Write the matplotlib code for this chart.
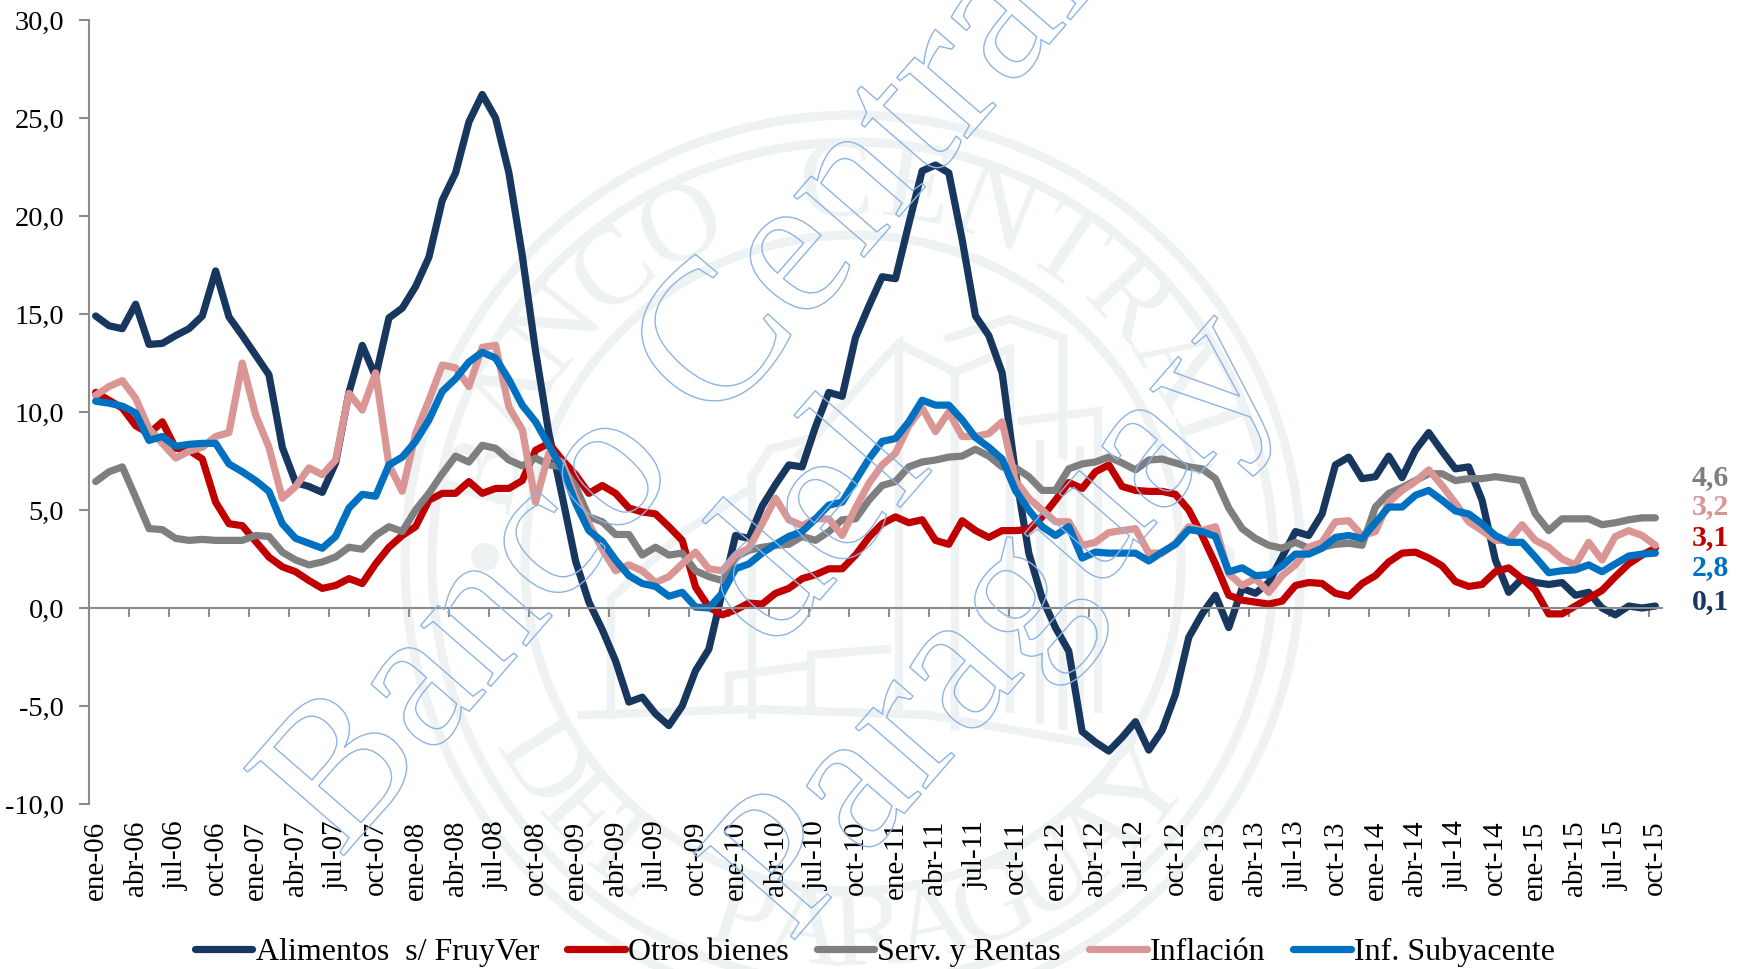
# -*- coding: utf-8 -*-
import numpy as np
import matplotlib
matplotlib.use("Agg")
import matplotlib.pyplot as plt
import matplotlib.patheffects as pe
from matplotlib.patches import Circle

W, H = 1742, 969

MONTHS = ["ene", "abr", "jul", "oct"]
YEARS = ["06", "07", "08", "09", "10", "11", "12", "13", "14", "15"]
TICK_LABELS = [f"{m}-{y}" for y in YEARS for m in MONTHS]
Y_TICKS = [-10, -5, 0, 5, 10, 15, 20, 25, 30]

alimentos = [
    14.9, 14.4, 14.25, 15.5, 13.45, 13.5, 13.9, 14.25, 14.9, 17.2,
    14.85, 13.9, 12.9, 11.9, 8.2, 6.4, 6.2, 5.9, 7.4, 11.0,
    13.4, 11.8, 14.8, 15.3, 16.4, 17.9, 20.8, 22.2, 24.8, 26.2,
    25.0, 22.2, 18.0, 13.1, 8.9, 5.7, 2.4, 0.3, -1.1, -2.7,
    -4.8, -4.55, -5.4, -6.0, -5.0, -3.2, -2.1, 0.8, 3.7, 3.55,
    5.2, 6.3, 7.3, 7.2, 9.25, 11.0, 10.8, 13.8, 15.4, 16.9,
    16.8, 19.6, 22.3, 22.6, 22.2, 18.8, 14.9, 13.9, 12.0, 6.9,
    2.8, 0.5, -1.0, -2.2, -6.3, -6.85, -7.3, -6.6, -5.8, -7.25,
    -6.25, -4.4, -1.5, -0.3, 0.65, -1.0, 1.0, 0.75, 1.3, 2.6,
    3.9, 3.7, 4.8, 7.3, 7.7, 6.6, 6.7, 7.75, 6.65, 8.05,
    8.95, 8.0, 7.1, 7.2, 5.5, 2.45, 0.8, 1.5, 1.3, 1.2,
    1.3, 0.65, 0.8, 0.0, -0.35, 0.1, 0.0, 0.1,
]
otros = [
    11.0, 10.6, 10.2, 9.3, 8.9, 9.5, 8.15, 8.05, 7.6, 5.4,
    4.3, 4.2, 3.4, 2.6, 2.1, 1.85, 1.4, 1.0, 1.15, 1.5,
    1.25, 2.25, 3.1, 3.7, 4.15, 5.5, 5.85, 5.85, 6.45, 5.85,
    6.1, 6.1, 6.5, 8.05, 8.4, 7.55, 6.8, 5.85, 6.25, 5.85,
    5.1, 4.9, 4.8, 4.15, 3.45, 1.07, 0.05, -0.35, -0.1, 0.25,
    0.2, 0.75, 1.0, 1.5, 1.7, 2.0, 2.0, 2.7, 3.6, 4.3,
    4.65, 4.35, 4.5, 3.45, 3.25, 4.45, 3.95, 3.6, 3.95, 3.95,
    4.0, 4.65, 5.5, 6.4, 6.1, 6.95, 7.3, 6.2, 6.0, 5.95,
    5.95, 5.8, 5.0, 3.7, 2.25, 0.65, 0.4, 0.3, 0.2, 0.35,
    1.15, 1.3, 1.25, 0.75, 0.6, 1.25, 1.65, 2.35, 2.8, 2.85,
    2.55, 2.15, 1.35, 1.1, 1.2, 1.85, 2.05, 1.5, 0.9, -0.3,
    -0.3, 0.1, 0.5, 0.9, 1.6, 2.25, 2.7, 3.05,
]
serv = [
    6.45, 6.95, 7.2, 5.65, 4.05, 4.0, 3.55, 3.45, 3.5, 3.45,
    3.45, 3.45, 3.7, 3.65, 2.85, 2.45, 2.2, 2.35, 2.6, 3.1,
    3.0, 3.7, 4.15, 3.9, 5.0, 5.85, 6.85, 7.75, 7.45, 8.3,
    8.15, 7.55, 7.25, 7.65, 7.3, 7.2, 6.2, 4.65, 4.4, 3.75,
    3.75, 2.7, 3.1, 2.7, 2.8, 1.9, 1.6, 1.4, 2.6, 2.95,
    3.1, 3.2, 3.25, 3.65, 3.45, 3.9, 4.5, 4.55, 5.5, 6.25,
    6.45, 7.2, 7.45, 7.55, 7.7, 7.75, 8.1, 7.75, 7.2, 7.15,
    6.7, 6.0, 6.0, 7.1, 7.35, 7.45, 7.7, 7.4, 7.05, 7.55,
    7.6, 7.4, 7.2, 7.1, 6.6, 5.1, 4.05, 3.55, 3.2, 3.05,
    3.35, 3.05, 3.1, 3.25, 3.3, 3.2, 5.15, 5.85, 6.15, 6.5,
    6.85, 6.85, 6.5, 6.6, 6.6, 6.7, 6.6, 6.5, 4.8, 3.95,
    4.55, 4.55, 4.55, 4.25, 4.35, 4.5, 4.6, 4.6,
]
inflacion = [
    10.85, 11.3, 11.6, 10.7, 9.15, 8.4, 7.65, 8.0, 8.2, 8.75,
    8.95, 12.5, 9.85, 8.2, 5.6, 6.2, 7.15, 6.8, 7.55, 10.95,
    10.1, 12.0, 7.3, 5.95, 8.9, 10.6, 12.4, 12.25, 11.3, 13.3,
    13.4, 10.25, 9.1, 5.4, 7.9, 7.4, 5.65, 4.3, 3.0, 1.9,
    2.2, 1.9, 1.3, 1.6, 2.25, 2.85, 2.0, 1.9, 2.7, 3.05,
    4.3, 5.6, 4.5, 4.2, 4.55, 4.55, 3.7, 5.1, 6.35, 7.3,
    7.9, 9.3, 10.2, 9.0, 10.0, 8.75, 8.75, 8.9, 9.5, 6.5,
    5.6, 5.0, 4.4, 4.4, 3.2, 3.35, 3.85, 3.95, 4.05, 2.8,
    2.8, 3.3, 4.15, 3.95, 4.15, 1.75, 1.15, 1.5, 0.8, 1.65,
    2.2, 3.1, 3.35, 4.4, 4.45, 3.7, 3.9, 5.4, 6.0, 6.45,
    7.05, 6.25, 5.35, 4.4, 3.95, 3.45, 3.45, 4.25, 3.45, 3.1,
    2.5, 2.2, 3.35, 2.45, 3.65, 3.95, 3.7, 3.2,
]
subyacente = [
    10.55, 10.45, 10.3, 9.95, 8.55, 8.75, 8.25, 8.35, 8.4, 8.4,
    7.35, 6.95, 6.5, 5.95, 4.3, 3.55, 3.3, 3.05, 3.65, 5.1,
    5.8, 5.7, 7.3, 7.7, 8.5, 9.6, 11.05, 11.7, 12.55, 13.05,
    12.75, 11.65, 10.35, 9.5, 8.3, 7.1, 5.35, 3.95, 3.4, 2.45,
    1.65, 1.25, 1.1, 0.6, 0.8, 0.05, 0.0, 0.75, 2.0, 2.25,
    2.8, 3.25, 3.65, 3.9, 4.55, 5.25, 5.4, 6.5, 7.6, 8.5,
    8.65, 9.5, 10.6, 10.35, 10.35, 9.6, 8.7, 8.2, 7.6, 6.0,
    5.0, 4.15, 3.7, 4.15, 2.55, 2.85, 2.8, 2.8, 2.8, 2.4,
    2.85, 3.25, 4.0, 3.9, 3.65, 1.85, 2.05, 1.65, 1.7, 2.15,
    2.75, 2.75, 3.05, 3.6, 3.7, 3.55, 4.35, 5.15, 5.15, 5.75,
    6.0, 5.5, 4.95, 4.8, 4.3, 3.7, 3.35, 3.35, 2.6, 1.8,
    1.9, 1.95, 2.2, 1.85, 2.25, 2.65, 2.75, 2.8,
]

SERIES_NAMES = ["Alimentos  s/ FruyVer", "Otros bienes", "Serv. y Rentas", "Inflación", "Inf. Subyacente"]
SERIES_COLORS = ["#17375E", "#C00000", "#7F7F7F", "#D99694", "#0070C0"]
END_LABELS = ["0,1", "3,1", "4,6", "3,2", "2,8"]
END_LABEL_Y = [602, 538, 478, 507, 568]

SEAL = "#EEF2F2"
WATER = "#8DB4E2"

# trazos del edificio del sello, en pixeles de la imagen
BUILDING = [
    [(948, 338), (1010, 319), (1063, 338), (1063, 455)],
    [(899, 344), (955, 372), (1010, 349)],
    [(799, 455), (887, 355), (899, 344), (899, 709)],
    [(955, 372), (955, 726)],
    [(1010, 349), (1010, 709)],
    [(752, 477), (770, 449), (811, 438)],
    [(752, 477), (752, 715)],
    [(1022, 421), (1098, 411), (1098, 709)],
    [(611, 715), (611, 599), (682, 533), (752, 488)],
    [(811, 709), (811, 655), (887, 649)],
    [(729, 709), (729, 676), (811, 665)],
    [(1040, 444), (1040, 720)],
    [(1063, 478), (1063, 726)],
    [(1080, 450), (1080, 720)],
    [(582, 715), (752, 709), (928, 715), (1104, 746)],
]


def draw_seal(fig):
    bg = fig.add_axes([0, 0, 1, 1], zorder=0)
    bg.set_xlim(0, W)
    bg.set_ylim(H, 0)
    bg.axis("off")
    cx, cy = 853, 563
    for r in (448, 421, 328):
        bg.add_patch(Circle((cx, cy), r, fill=False, ec=SEAL, lw=6.5))
    for dx in (-368, 368):
        bg.add_patch(Circle((cx + dx, cy - 6), 14, fc=SEAL, ec="none"))
    for pts in BUILDING:
        xs, ys = zip(*pts)
        bg.plot(xs, ys, color=SEAL, lw=6, solid_joinstyle="miter")
    r = 375
    top = "BANCO CENTRAL"
    for ang, ch in zip(np.linspace(166, 19, len(top)), top):
        a = np.deg2rad(ang)
        bg.text(cx + r * np.cos(a), cy - r * np.sin(a), ch, rotation=ang - 90,
                rotation_mode="anchor", ha="center", va="center", fontsize=80,
                family="Liberation Serif", color=SEAL)
    bottom = "DEL PARAGUAY"
    for ang, ch in zip(np.linspace(213, 322, len(bottom)), bottom):
        a = np.deg2rad(ang)
        bg.text(cx + r * np.cos(a), cy - r * np.sin(a), ch, rotation=ang + 90,
                rotation_mode="anchor", ha="center", va="center", fontsize=80,
                family="Liberation Serif", color=SEAL)


def main():
    plt.rcParams["font.family"] = "Liberation Serif"
    fig = plt.figure(figsize=(W / 100, H / 100), dpi=100, facecolor="white")
    draw_seal(fig)

    left, right, top, bottom = 89, 1662, 20, 804
    ax = fig.add_axes([left / W, 1 - bottom / H, (right - left) / W, (bottom - top) / H], zorder=1)
    ax.patch.set_alpha(0)

    data = [alimentos, otros, serv, inflacion, subyacente]
    x = np.arange(len(alimentos))
    for vals, name, col in zip(data, SERIES_NAMES, SERIES_COLORS):
        ax.plot(x, vals, color=col, lw=5.2, label=name,
                solid_capstyle="round", solid_joinstyle="round")

    ax.set_xlim(-0.5, len(x) - 0.5)
    ax.set_ylim(-10, 30)
    for s in ("top", "right"):
        ax.spines[s].set_visible(False)
    ax.spines["bottom"].set_position(("data", 0))
    for s in ("left", "bottom"):
        ax.spines[s].set_color("#8C8C8C")
        ax.spines[s].set_linewidth(1.5)

    ax.set_yticks(Y_TICKS)
    ax.set_yticklabels([f"{v:.1f}".replace(".", ",") for v in Y_TICKS], fontsize=20.5)
    ax.tick_params(axis="y", length=7, width=1.5, color="#8C8C8C", pad=11)

    label_pos = x[::3]
    ax.set_xticks(label_pos - 0.5)
    ax.set_xticklabels([])
    ax.set_xticks(label_pos, minor=True)
    ax.set_xticklabels(TICK_LABELS[:len(label_pos)], minor=True, rotation=90, fontsize=21,
                       ha="center", va="top")
    ax.tick_params(axis="x", which="major", length=6.5, width=1.5, color="#8C8C8C")
    ax.tick_params(axis="x", which="minor", length=0, pad=153)

    for txt, ypx, col in zip(END_LABELS, END_LABEL_Y, SERIES_COLORS):
        fig.text(1692 / W, 1 - ypx / H, txt, color=col, fontsize=21.5, fontweight="bold",
                 ha="left", va="center", zorder=5)

    fig.legend(*ax.get_legend_handles_labels(), loc="center", ncol=5, frameon=False,
               bbox_to_anchor=(875 / W, 1 - 952 / H), fontsize=23, handlelength=1.8,
               handletextpad=0.1, columnspacing=0.88, borderpad=0, borderaxespad=0)

    # marca de agua, solo contorno
    for txt, xp, yp in (("Banco Central", 340, 860), ("del", 772, 655), ("Paraguay", 790, 945)):
        fig.text(xp / W, 1 - yp / H, txt, fontsize=146, rotation=49, rotation_mode="anchor",
                 ha="left", va="baseline", color="none", zorder=6,
                 path_effects=[pe.Stroke(linewidth=1.0, foreground=WATER)])

    fig.savefig("out.png", dpi=100, facecolor="white")


if __name__ == "__main__":
    main()
